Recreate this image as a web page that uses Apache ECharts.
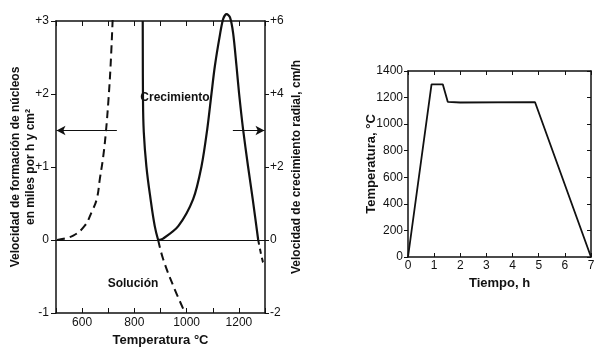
<!DOCTYPE html>
<html>
<head>
<meta charset="utf-8">
<script src="https://cdn.jsdelivr.net/npm/echarts@6/dist/echarts.min.js"></script>
<style>
  html, body { margin: 0; padding: 0; background: #fff; }
  #chart { width: 600px; height: 352px; }
</style>
</head>
<body>
<div id="chart"></div>
<script>
// nucleation rate (dashed, left axis, thousands per h·cm2)
const nucTemp = [504, 566, 611, 636, 656, 668, 681, 691, 701, 709, 717];
const nucRate = [0, 0.06, 0.2, 0.38, 0.56, 0.84, 1.15, 1.48, 1.93, 2.39, 3.03];

// solid descending curve on left axis, then its dashed continuation (solución)
const dissTemp = [832, 833, 836, 846, 862, 878, 891];
const dissRate = [3.0, 1.93, 1.48, 1.01, 0.56, 0.19, 0];
const solTemp = [891, 910, 949, 993];
const solRate = [0, -0.26, -0.63, -0.99];

// growth rate (right axis, cm/h)
const growTemp = [891, 910, 968, 1025, 1057, 1079, 1095, 1108, 1127, 1140, 1153, 1166, 1178, 1191, 1201, 1216, 1235, 1253, 1274];
const growRate = [0, 0.04, 0.38, 1.12, 2.02, 3.04, 4.0, 4.76, 5.6, 6.06, 6.19, 6.1, 5.67, 4.76, 4.0, 3.04, 2.02, 1.12, 0];
const growTailTemp = [1274, 1292, 1300];
const growTailRate = [0, -0.6, -0.66];

// heat treatment schedule
const timeH = [0, 0.9, 1.33, 1.52, 2.0, 4.86, 7];
const tempC = [0, 1300, 1300, 1168, 1163, 1165, 0];

const pair = (xs, ys) => xs.map((x, i) => [x, ys[i]]);

const ink = '#111';
const font = '"Liberation Sans", Arial, sans-serif';
const tickLabel = { color: ink, fontSize: 12, fontFamily: font };
const axisName = { color: ink, fontSize: 12, fontWeight: 'bold', fontFamily: font };
const axLine = { show: true, onZero: false, lineStyle: { color: ink, width: 1.5 } };
const plain = v => '' + v;

const chart = echarts.init(document.getElementById('chart'));
chart.setOption({
  backgroundColor: '#fff',
  animation: false,
  grid: [
    { left: 56, top: 21, width: 209, height: 292 },
    { left: 408, top: 71, width: 183, height: 186 }
  ],
  xAxis: [
    {
      gridIndex: 0, type: 'value', min: 500, max: 1300, interval: 100, position: 'bottom',
      axisLine: axLine, axisTick: { inside: true, length: 5, lineStyle: { color: ink } },
      splitLine: { show: false },
      axisLabel: Object.assign({ margin: 4, formatter: v => (v % 200 === 0 && v > 500 && v < 1300) ? '' + v : '' }, tickLabel),
      name: 'Temperatura °C', nameLocation: 'middle', nameGap: 20,
      nameTextStyle: Object.assign({}, axisName, { fontSize: 13 })
    },
    {
      gridIndex: 0, type: 'value', min: 500, max: 1300, interval: 100, position: 'top',
      axisLine: axLine, axisTick: { inside: true, length: 5, lineStyle: { color: ink } },
      splitLine: { show: false }, axisLabel: { show: false }
    },
    {
      gridIndex: 1, type: 'value', min: 0, max: 7, interval: 1, position: 'bottom',
      axisLine: axLine, axisTick: { inside: true, length: 4, lineStyle: { color: ink } },
      splitLine: { show: false },
      axisLabel: Object.assign({ margin: 3, formatter: plain }, tickLabel),
      name: 'Tiempo, h', nameLocation: 'middle', nameGap: 18,
      nameTextStyle: Object.assign({}, axisName, { fontSize: 13 })
    },
    {
      gridIndex: 1, type: 'value', min: 0, max: 7, interval: 1, position: 'top',
      axisLine: axLine, axisTick: { inside: true, length: 4, lineStyle: { color: ink } },
      splitLine: { show: false }, axisLabel: { show: false }
    }
  ],
  yAxis: [
    {
      gridIndex: 0, type: 'value', min: -1, max: 3, interval: 1, position: 'left',
      axisLine: axLine, axisTick: { length: 5, lineStyle: { color: ink } },
      splitLine: { show: false },
      axisLabel: Object.assign({ margin: 7, formatter: v => v > 0 ? '+' + v : '' + v }, tickLabel),
      name: 'Velocidad de formación de núcleos\nen miles por h y cm²',
      nameLocation: 'middle', nameGap: 18, nameRotate: 90, nameMoveOverlap: false,
      nameTextStyle: Object.assign({ lineHeight: 15 }, axisName)
    },
    {
      gridIndex: 0, type: 'value', min: -2, max: 6, interval: 2, position: 'right',
      axisLine: axLine, axisTick: { length: 4, lineStyle: { color: ink } },
      splitLine: { show: false },
      axisLabel: Object.assign({ margin: 5, formatter: v => v > 0 ? '+' + v : '' + v }, tickLabel),
      name: 'Velocidad de crecimiento radial, cm/h',
      nameLocation: 'middle', nameGap: 26, nameRotate: 90,
      nameTextStyle: axisName
    },
    {
      gridIndex: 1, type: 'value', min: 0, max: 1400, interval: 200, position: 'left',
      axisLine: axLine, axisTick: { length: 4, lineStyle: { color: ink } },
      splitLine: { show: false },
      axisLabel: Object.assign({ margin: 5, formatter: plain }, tickLabel),
      name: 'Temperatura, °C', nameLocation: 'middle', nameGap: 30, nameRotate: 90, nameMoveOverlap: false,
      nameTextStyle: Object.assign({}, axisName, { fontSize: 13 })
    },
    {
      gridIndex: 1, type: 'value', min: 0, max: 1400, interval: 200, position: 'right',
      axisLine: axLine, axisTick: { inside: true, length: 4, lineStyle: { color: ink } },
      splitLine: { show: false }, axisLabel: { show: false }
    }
  ],
  series: [
    {
      type: 'line', xAxisIndex: 0, yAxisIndex: 0, data: pair(nucTemp, nucRate),
      smooth: 0.4, showSymbol: false, silent: true,
      lineStyle: { color: ink, width: 2, type: [8, 5] },
      markLine: {
        silent: true, symbol: ['none', 'arrow'], symbolSize: [7, 9],
        label: { show: false },
        lineStyle: { color: ink, width: 1, type: 'solid' },
        data: [
          [{ coord: [733, 1.5] }, { coord: [502, 1.5] }],
          [{ coord: [1177, 1.5] }, { coord: [1298, 1.5] }],
          [{ coord: [500, 0], symbol: 'none' }, { coord: [1300, 0], symbol: 'none' }]
        ]
      }
    },
    {
      type: 'line', xAxisIndex: 0, yAxisIndex: 0, data: pair(dissTemp, dissRate),
      smooth: 0.4, showSymbol: false, silent: true,
      lineStyle: { color: ink, width: 2.2 }
    },
    {
      type: 'line', xAxisIndex: 0, yAxisIndex: 0, data: pair(solTemp, solRate),
      smooth: 0.4, showSymbol: false, silent: true,
      lineStyle: { color: ink, width: 2, type: [8, 5] }
    },
    {
      type: 'line', xAxisIndex: 0, yAxisIndex: 1, data: pair(growTemp, growRate),
      smooth: 0.3, showSymbol: false, silent: true, clip: false,
      lineStyle: { color: ink, width: 2.2 }
    },
    {
      type: 'line', xAxisIndex: 0, yAxisIndex: 1, data: pair(growTailTemp, growTailRate),
      smooth: 0.3, showSymbol: false, silent: true,
      lineStyle: { color: ink, width: 2, type: [5, 4] }
    },
    {
      type: 'line', xAxisIndex: 2, yAxisIndex: 2, data: pair(timeH, tempC),
      showSymbol: false, silent: true, clip: false,
      lineStyle: { color: ink, width: 1.8 }
    }
  ],
  graphic: [
    { type: 'text', x: 175, y: 98, style: { text: 'Crecimiento', fill: ink, font: 'bold 12px ' + font, align: 'center', verticalAlign: 'middle' } },
    { type: 'text', x: 133, y: 284, style: { text: 'Solución', fill: ink, font: 'bold 12px ' + font, align: 'center', verticalAlign: 'middle' } }
  ]
});
</script>
</body>
</html>
